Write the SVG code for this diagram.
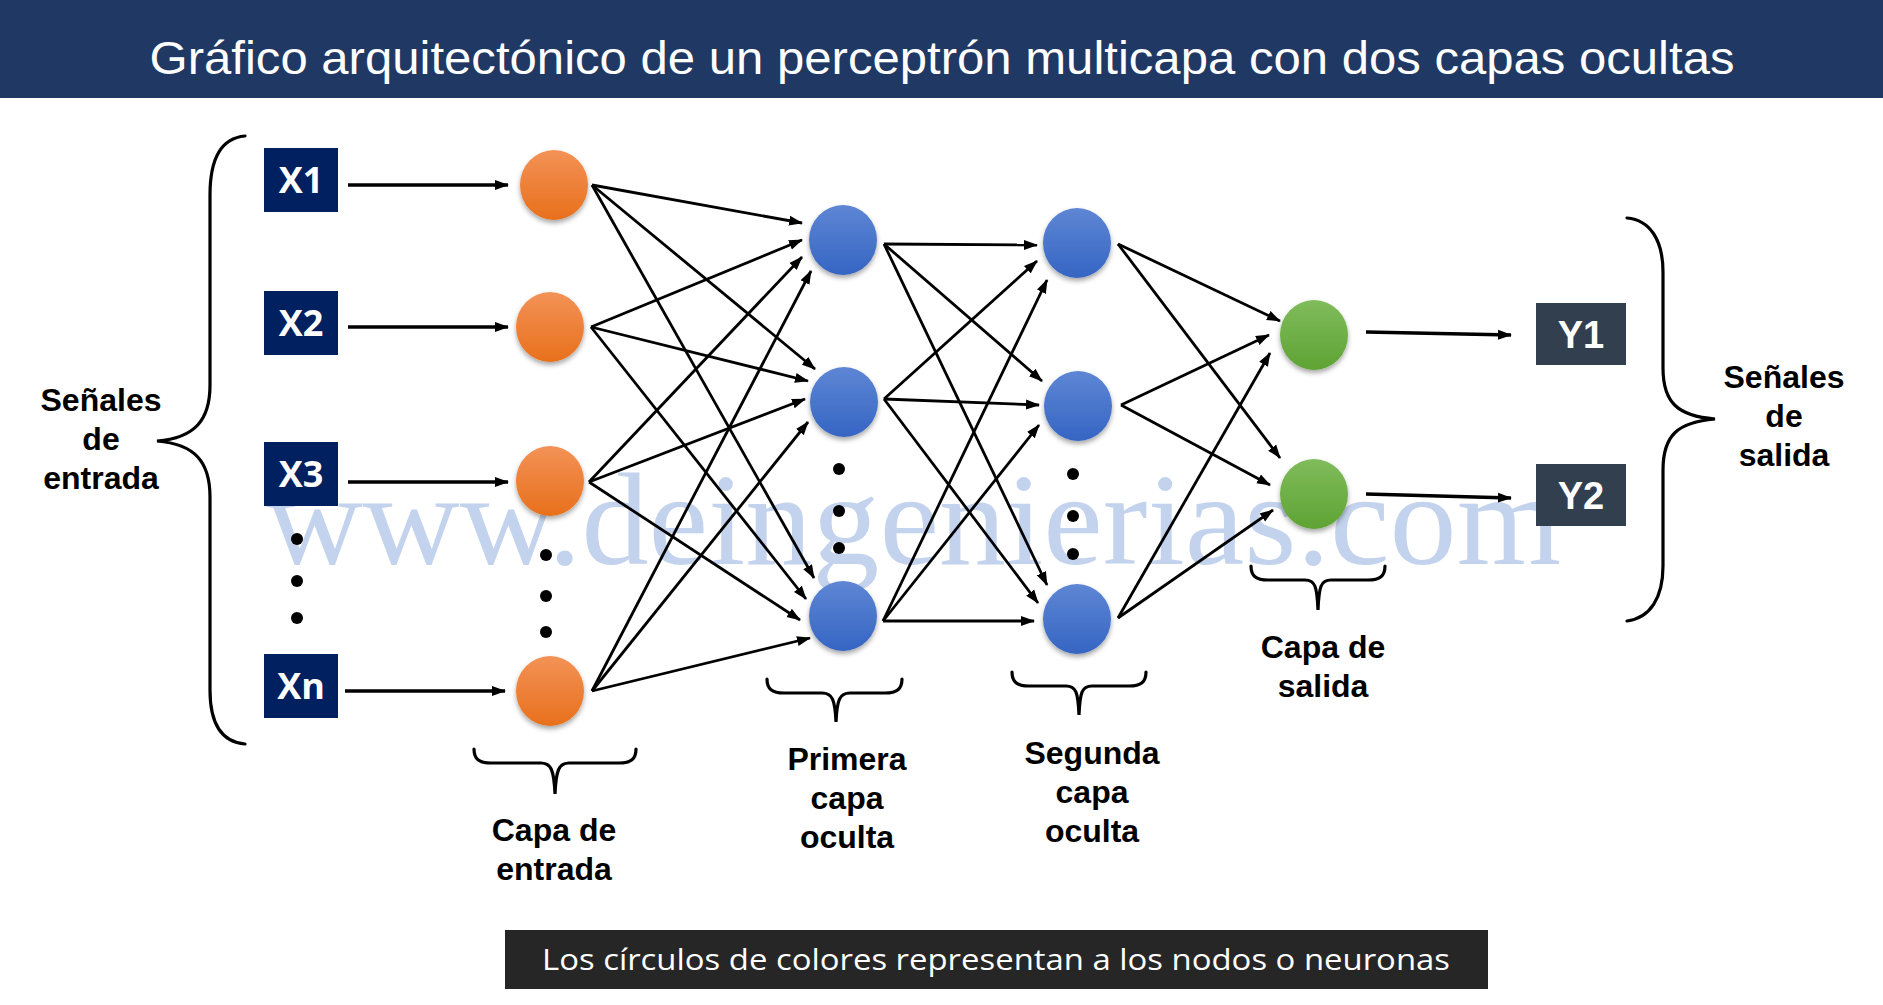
<svg xmlns="http://www.w3.org/2000/svg" width="1883" height="1005" viewBox="0 0 1883 1005">
<style>
.lbl{font-family:"Liberation Sans",Arial,sans-serif;font-weight:bold;font-size:32px;fill:#000;text-anchor:middle}
.xt{font-family:"Open Sans","Liberation Sans",sans-serif;font-weight:bold;font-size:36px;fill:#fff;text-anchor:middle}
.yt{font-family:"Liberation Sans",Arial,sans-serif;font-weight:bold;font-size:38px;fill:#fff;text-anchor:middle}
.xbox{fill:#002060}
.ybox{fill:#323f4f}
.brace{fill:none;stroke:#000;stroke-width:3.2;stroke-linecap:round}
.c{stroke:#000;stroke-width:2.8;fill:none;marker-end:url(#ah)}
.ci{stroke:#000;stroke-width:3.4;fill:none;marker-end:url(#ah)}
.dot{fill:#000}
</style>
<defs>
<marker id="ah" viewBox="0 0 14 11" refX="13" refY="5.5" markerWidth="14" markerHeight="11" markerUnits="userSpaceOnUse" orient="auto">
<path d="M0,0.5 L14,5.5 L0,10.5 z" fill="#000"/>
</marker>
<linearGradient id="gOr" x1="0" y1="0" x2="0" y2="1">
<stop offset="0" stop-color="#f39256"/>
<stop offset="1" stop-color="#e8701c"/>
</linearGradient>
<linearGradient id="gBl" x1="0" y1="0" x2="0" y2="1">
<stop offset="0" stop-color="#5e86d4"/>
<stop offset="1" stop-color="#3565c3"/>
</linearGradient>
<linearGradient id="gGr" x1="0" y1="0" x2="0" y2="1">
<stop offset="0" stop-color="#80bc5c"/>
<stop offset="1" stop-color="#5ea333"/>
</linearGradient>
<filter id="sh" x="-30%" y="-30%" width="160%" height="170%">
<feDropShadow dx="0" dy="3" stdDeviation="2.5" flood-color="#000" flood-opacity="0.35"/>
</filter>
</defs>
<rect x="0" y="0" width="1883" height="1005" fill="#fff"/>
<g id="title">
<rect x="0" y="0" width="1883" height="98" fill="#1f3864"/>
<text x="942" y="74" font-family="Liberation Sans, Arial, sans-serif" font-size="46" fill="#fff" text-anchor="middle" textLength="1585" lengthAdjust="spacingAndGlyphs">Gráfico arquitectónico de un perceptrón multicapa con dos capas ocultas</text>
</g>
<text id="watermark" x="266" y="564" font-family="Liberation Serif, Times New Roman, serif" font-size="132" fill="#c4d3ed" textLength="1295" lengthAdjust="spacingAndGlyphs">www.deingenierias.com</text>

<g id="connectors">
<line class="ci" x1="348" y1="185" x2="508" y2="185"/>
<line class="ci" x1="348" y1="327" x2="508" y2="327"/>
<line class="ci" x1="348" y1="482" x2="508" y2="482"/>
<line class="ci" x1="345" y1="691" x2="505" y2="691"/>

<line class="c" x1="592" y1="185" x2="802" y2="223"/>
<line class="c" x1="592" y1="185" x2="815" y2="369"/>
<line class="c" x1="592" y1="185" x2="814" y2="578"/>
<line class="c" x1="591" y1="327" x2="802" y2="240"/>
<line class="c" x1="591" y1="327" x2="808" y2="381"/>
<line class="c" x1="591" y1="327" x2="806" y2="599"/>
<line class="c" x1="589" y1="482" x2="802" y2="257"/>
<line class="c" x1="589" y1="482" x2="805" y2="399"/>
<line class="c" x1="589" y1="482" x2="800" y2="620"/>
<line class="c" x1="592" y1="691" x2="811" y2="271"/>
<line class="c" x1="592" y1="691" x2="808" y2="422"/>
<line class="c" x1="592" y1="691" x2="810" y2="638"/>

<line class="c" x1="884" y1="244" x2="1037" y2="245"/>
<line class="c" x1="884" y1="244" x2="1042" y2="381"/>
<line class="c" x1="884" y1="244" x2="1047" y2="585"/>
<line class="c" x1="884" y1="399" x2="1037" y2="261"/>
<line class="c" x1="884" y1="399" x2="1039" y2="405"/>
<line class="c" x1="884" y1="399" x2="1038" y2="603"/>
<line class="c" x1="883" y1="621" x2="1047" y2="280"/>
<line class="c" x1="883" y1="621" x2="1039" y2="425"/>
<line class="c" x1="883" y1="621" x2="1034" y2="621"/>

<line class="c" x1="1118" y1="244" x2="1280" y2="321"/>
<line class="c" x1="1118" y1="244" x2="1280" y2="458"/>
<line class="c" x1="1121" y1="405" x2="1269" y2="335"/>
<line class="c" x1="1121" y1="405" x2="1270" y2="485"/>
<line class="c" x1="1118" y1="618" x2="1270" y2="353"/>
<line class="c" x1="1118" y1="618" x2="1273" y2="510"/>

<line class="ci" x1="1366" y1="332" x2="1511" y2="335"/>
<line class="ci" x1="1366" y1="494" x2="1511" y2="498"/>
</g>

<g id="input-signals">
<g id="x1"><rect class="xbox" x="264" y="148" width="74" height="64"/><text class="xt" x="301" y="193">X1</text></g>
<g id="x2"><rect class="xbox" x="264" y="291" width="74" height="64"/><text class="xt" x="301" y="336">X2</text></g>
<g id="x3"><rect class="xbox" x="264" y="442" width="74" height="64"/><text class="xt" x="301" y="487">X3</text></g>
<g id="xn"><rect class="xbox" x="264" y="654" width="74" height="64"/><text class="xt" x="301" y="699">Xn</text></g>
<circle class="dot" cx="297" cy="539" r="6"/>
<circle class="dot" cx="297" cy="581" r="6"/>
<circle class="dot" cx="297" cy="618" r="6"/>
</g>

<g id="input-layer" filter="url(#sh)">
<ellipse id="i1" cx="554" cy="185" rx="34" ry="35" fill="url(#gOr)"/>
<ellipse id="i2" cx="550" cy="327" rx="34" ry="35" fill="url(#gOr)"/>
<ellipse id="i3" cx="550" cy="481" rx="34" ry="35" fill="url(#gOr)"/>
<ellipse id="in" cx="550" cy="691" rx="34" ry="35" fill="url(#gOr)"/>
</g>
<g id="input-dots">
<circle class="dot" cx="546" cy="555" r="6"/>
<circle class="dot" cx="546" cy="596" r="6"/>
<circle class="dot" cx="546" cy="632" r="6"/>
</g>

<g id="hidden1" filter="url(#sh)">
<ellipse id="h11" cx="843" cy="240" rx="34" ry="35" fill="url(#gBl)"/>
<ellipse id="h12" cx="844" cy="402" rx="34" ry="35" fill="url(#gBl)"/>
<ellipse id="h13" cx="843" cy="616" rx="34" ry="35" fill="url(#gBl)"/>
</g>
<g id="hidden1-dots">
<circle class="dot" cx="839" cy="469" r="6"/>
<circle class="dot" cx="839" cy="511" r="6"/>
<circle class="dot" cx="839" cy="548" r="6"/>
</g>

<g id="hidden2" filter="url(#sh)">
<ellipse id="h21" cx="1077" cy="243" rx="34" ry="35" fill="url(#gBl)"/>
<ellipse id="h22" cx="1078" cy="406" rx="34" ry="35" fill="url(#gBl)"/>
<ellipse id="h23" cx="1077" cy="619" rx="34" ry="35" fill="url(#gBl)"/>
</g>
<g id="hidden2-dots">
<circle class="dot" cx="1073" cy="474" r="6"/>
<circle class="dot" cx="1073" cy="516" r="6"/>
<circle class="dot" cx="1073" cy="554" r="6"/>
</g>

<g id="output-layer" filter="url(#sh)">
<ellipse id="o1" cx="1314" cy="335" rx="34" ry="35" fill="url(#gGr)"/>
<ellipse id="o2" cx="1314" cy="494" rx="34" ry="35" fill="url(#gGr)"/>
</g>

<g id="output-signals">
<g id="y1"><rect class="ybox" x="1536" y="303" width="90" height="62"/><text class="yt" x="1581" y="348">Y1</text></g>
<g id="y2"><rect class="ybox" x="1536" y="464" width="90" height="62"/><text class="yt" x="1581" y="509">Y2</text></g>
</g>

<g id="braces">
<path class="brace" d="M245,136 C222,138 210,158 210,195 L210,385 C210,420 195,438 157,441 C195,444 210,462 210,497 L210,690 C210,725 222,742 245,744"/>
<path class="brace" d="M1627,218 C1650,220 1663,240 1663,272 L1663,368 C1663,403 1678,416 1715,419 C1678,422 1663,435 1663,470 L1663,566 C1663,598 1650,618 1627,621"/>
<path class="brace" d="M474,749 C474,759 479,763 491,763 L541,763 C551,763 554,770 555,794 C556,770 559,763 569,763 L619,763 C631,763 636,759 636,749"/>
<path class="brace" d="M767,679 C767,689 772,693 784,693 L822,693 C832,693 835,699 836,722 C837,699 840,693 850,693 L885,693 C897,693 902,689 902,679"/>
<path class="brace" d="M1012,672 C1012,682 1017,686 1029,686 L1066,686 C1076,686 1078,692 1079,715 C1080,692 1082,686 1092,686 L1129,686 C1141,686 1146,682 1146,672"/>
<path class="brace" d="M1251,566 C1251,576 1256,580 1268,580 L1305,580 C1315,580 1317,586 1318,610 C1319,586 1321,580 1331,580 L1368,580 C1380,580 1385,576 1385,566"/>
</g>

<g id="labels">
<text class="lbl" x="101" y="411">Señales</text>
<text class="lbl" x="101" y="450">de</text>
<text class="lbl" x="101" y="489">entrada</text>
<text class="lbl" x="1784" y="388">Señales</text>
<text class="lbl" x="1784" y="427">de</text>
<text class="lbl" x="1784" y="466">salida</text>
<text class="lbl" x="554" y="841">Capa de</text>
<text class="lbl" x="554" y="880">entrada</text>
<text class="lbl" x="847" y="770">Primera</text>
<text class="lbl" x="847" y="809">capa</text>
<text class="lbl" x="847" y="848">oculta</text>
<text class="lbl" x="1092" y="764">Segunda</text>
<text class="lbl" x="1092" y="803">capa</text>
<text class="lbl" x="1092" y="842">oculta</text>
<text class="lbl" x="1323" y="658">Capa de</text>
<text class="lbl" x="1323" y="697">salida</text>
</g>

<g id="note">
<rect x="505" y="930" width="983" height="59" fill="#262626"/>
<text x="996" y="970" font-family="Open Sans, Liberation Sans, sans-serif" font-size="30" fill="#fff" text-anchor="middle" textLength="908" lengthAdjust="spacingAndGlyphs">Los círculos de colores representan a los nodos o neuronas</text>
</g>
</svg>
